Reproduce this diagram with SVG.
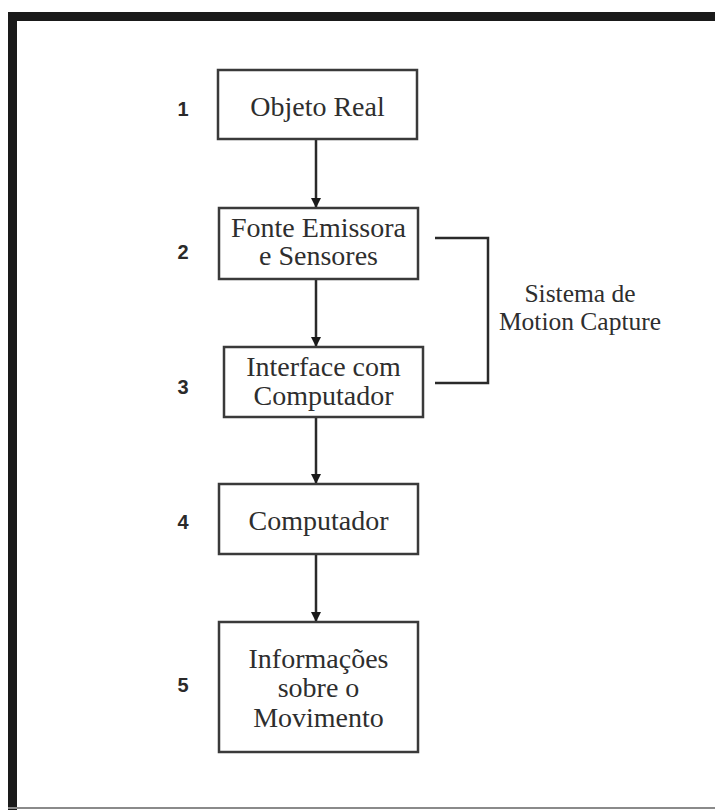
<svg xmlns="http://www.w3.org/2000/svg" width="715" height="810" viewBox="0 0 715 810">
<style>
.box{fill:#fff;stroke:#3a3a3a;stroke-width:2.5}
.t{font-family:"Liberation Serif","Times New Roman",serif;font-size:28px;fill:#2e2e2e;text-anchor:middle}
.n{font-family:"Liberation Sans",Arial,sans-serif;font-size:20px;font-weight:bold;fill:#2a2a2a;text-anchor:middle}
.c{stroke:#2a2a2a;stroke-width:2.5;fill:none}
.s{font-family:"Liberation Serif","Times New Roman",serif;font-size:25.5px;fill:#2e2e2e;text-anchor:middle}
</style>
<defs>
<marker id="ah" viewBox="0 0 10 10" refX="10" refY="5" markerWidth="4" markerHeight="4" orient="auto" markerUnits="strokeWidth">
<path d="M0,0 L10,5 L0,10 Z" fill="#1a1a1a"/>
</marker>
</defs>
<rect width="715" height="810" fill="#fff"/>
<g id="frame">
<rect x="8" y="12" width="707" height="9" fill="#1a1a1a"/>
<rect x="8" y="12" width="9" height="798" fill="#1a1a1a"/>
<rect x="8" y="807" width="707" height="2" fill="#8a8a8a"/>
</g>
<g id="connectors">
<line class="c" x1="316" y1="139" x2="316" y2="208" marker-end="url(#ah)"/>
<line class="c" x1="316" y1="279" x2="316" y2="347" marker-end="url(#ah)"/>
<line class="c" x1="316" y1="417" x2="316" y2="484" marker-end="url(#ah)"/>
<line class="c" x1="316" y1="554" x2="316" y2="622" marker-end="url(#ah)"/>
<polyline class="c" points="435,238 488,238 488,383 435,383"/>
</g>
<g id="node1">
<rect class="box" x="218" y="70" width="199" height="69"/>
<text class="t" x="317.5" y="116">Objeto Real</text>
<text class="n" x="183" y="116">1</text>
</g>
<g id="node2">
<rect class="box" x="219" y="208" width="199" height="71"/>
<text class="t" x="318.5" y="237">Fonte Emissora</text>
<text class="t" x="318.5" y="265">e Sensores</text>
<text class="n" x="183" y="259">2</text>
</g>
<g id="node3">
<rect class="box" x="224" y="347" width="199" height="70"/>
<text class="t" x="323.5" y="376">Interface com</text>
<text class="t" x="323.5" y="405">Computador</text>
<text class="n" x="183" y="394">3</text>
</g>
<g id="node4">
<rect class="box" x="219" y="484" width="199" height="70"/>
<text class="t" x="318.5" y="530">Computador</text>
<text class="n" x="183" y="529">4</text>
</g>
<g id="node5">
<rect class="box" x="219" y="622" width="199" height="130"/>
<text class="t" x="318.5" y="668">Informações</text>
<text class="t" x="318.5" y="697">sobre o</text>
<text class="t" x="318.5" y="727">Movimento</text>
<text class="n" x="183" y="692">5</text>
</g>
<g id="label">
<text class="s" x="580" y="302">Sistema de</text>
<text class="s" x="580" y="330">Motion Capture</text>
</g>
</svg>
